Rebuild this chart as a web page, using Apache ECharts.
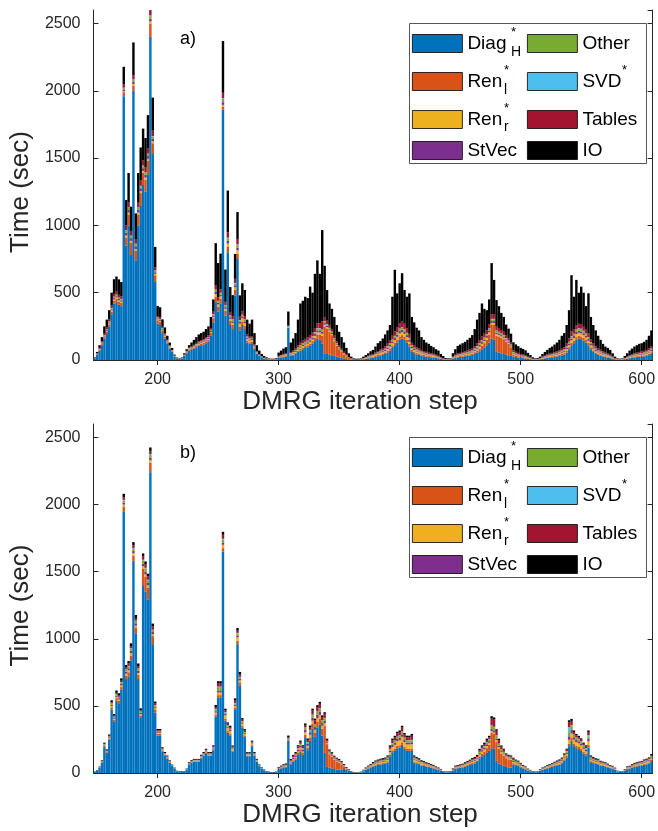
<!DOCTYPE html>
<html><head><meta charset="utf-8">
<script src="https://cdn.jsdelivr.net/npm/echarts@6/dist/echarts.min.js"></script>
<style>html,body{margin:0;padding:0;background:#fff}#c{width:658px;height:831px}</style>
</head><body><div id="c"></div>
<script>
// ---------------- data ----------------
const STEP_FIRST = 148, STEP_LAST = 608, STEP_BY = 2;   // DMRG iteration steps (bin centres)
const X_TICKS = [200, 300, 400, 500, 600];
const Y_MAX = 2600, Y_STEP = 500;
const SERIES_NAMES = ['Diag', 'Ren_l', 'Ren_r', 'StVec', 'Other', 'SVD', 'Tables', 'IO'];
const LEGEND_TEXT = { Diag: 'Diag', Ren_l: 'Ren', Ren_r: 'Ren', StVec: 'StVec', Other: 'Other', SVD: 'SVD', Tables: 'Tables', IO: 'IO' };
const LEGEND_SUP = { Diag: '*', Ren_l: '*', Ren_r: '*', SVD: '*' };
const LEGEND_SUB = { Diag: 'H', Ren_l: 'l', Ren_r: 'r' };
const PANEL_LABELS = ['a)', 'b)'];

// panel a)
const A_diag = [
12,40,70,110,160,200,250,340,420,430,
410,400,1960,850,1000,780,2000,740,1000,1150,
1300,1250,1380,2400,1530,580,270,260,200,160,
120,85,60,25,12,9,12,30,50,70,
75,85,95,105,110,115,125,135,180,280,
430,360,420,1860,330,800,260,230,480,750,
220,260,230,130,120,125,80,45,30,20,
10,7,4,3,3,5,15,18,22,25,
240,30,35,45,60,70,80,90,95,105,
120,140,160,150,120,50,45,40,35,30,
25,20,15,12,8,5,3,2,2,2,
3,6,9,12,15,18,22,28,32,38,
45,55,70,90,110,130,150,160,150,130,
100,60,50,42,38,32,28,25,22,20,
18,15,12,8,5,3,2,2,10,16,
20,22,25,28,30,33,37,45,55,65,
80,95,110,130,160,150,60,55,50,45,
40,35,30,26,22,18,16,14,12,9,
6,3,2,3,5,9,12,15,18,20,
22,25,30,35,40,55,80,110,125,150,
160,155,145,130,110,80,60,45,38,32,
26,22,19,15,10,5,2,2,2,6,
10,14,17,20,22,24,25,27,30,36,
45];
const A_renL = [
1,3,5,8,10,12,15,20,22,25,
25,25,30,60,80,90,40,70,80,90,
90,90,100,100,80,50,25,25,20,15,
12,9,6,3,1,1,1,3,5,7,
8,9,10,11,12,13,14,15,20,30,
40,35,35,20,35,40,30,30,40,40,
25,25,25,15,12,12,8,5,3,2,
2,1,1,1,1,1,4,5,5,6,
3,6,7,8,10,12,13,14,15,18,
20,25,30,40,60,200,190,170,150,110,
80,60,45,30,20,10,5,2,1,1,
1,2,3,4,5,6,7,9,10,11,
12,14,16,18,20,22,25,25,24,22,
20,15,13,12,11,10,9,8,7,7,
6,5,4,3,2,1,1,1,3,5,
6,7,7,8,9,10,11,13,16,20,
25,30,40,60,100,110,120,120,115,110,
95,85,65,15,12,10,8,7,6,5,
3,2,1,1,2,3,4,5,6,7,
7,8,9,10,11,13,15,18,18,20,
20,20,19,18,16,14,12,10,9,8,
7,6,5,4,3,2,1,1,1,2,
3,4,5,6,6,7,7,8,9,10,
12];
const A_renR = [
0,1,2,3,4,5,6,8,8,9,
8,8,8,15,15,15,10,15,15,15,
15,15,15,15,15,10,6,6,5,4,
4,3,2,1,1,0,1,1,2,3,
3,3,4,4,4,5,5,6,7,10,
20,18,18,15,15,25,15,15,20,25,
25,25,20,12,12,12,8,4,3,2,
1,1,1,1,1,1,3,3,4,4,
2,5,6,7,8,9,10,10,11,12,
12,14,15,15,15,12,10,9,8,7,
6,5,4,3,2,1,1,0,0,0,
1,2,3,4,5,5,6,7,8,9,
10,12,14,16,18,20,22,22,20,18,
16,12,10,9,8,7,6,6,5,5,
5,4,3,2,1,1,1,1,3,4,
5,5,6,6,7,7,8,10,12,14,
15,15,15,15,15,15,12,11,10,10,
9,8,7,6,5,5,4,4,3,2,
2,1,1,1,2,3,4,5,5,6,
6,7,8,9,10,12,15,18,20,22,
22,22,20,18,16,14,12,10,9,8,
7,6,5,4,3,1,1,1,1,2,
3,4,4,5,6,6,7,7,8,9,
10];
const A_stvec = [
1,2,3,4,5,6,7,9,10,10,
10,10,12,20,20,20,15,20,20,20,
20,20,20,20,20,12,7,7,6,5,
4,3,2,1,1,1,1,2,3,4,
4,4,5,5,6,6,7,7,8,10,
15,12,12,20,12,20,12,12,15,20,
12,12,12,8,7,7,5,3,2,1,
1,1,1,0,0,1,3,3,4,4,
2,5,6,7,8,9,10,10,11,12,
12,14,15,15,15,12,10,9,8,7,
6,5,4,3,2,1,1,0,0,0,
1,1,2,3,4,4,5,6,7,8,
9,10,12,14,15,16,18,18,17,15,
14,10,9,8,7,6,6,5,5,4,
4,4,3,2,1,1,1,1,3,4,
4,5,5,6,6,7,7,8,10,12,
13,13,13,14,14,14,12,11,10,10,
9,8,7,6,5,5,4,4,3,2,
2,1,1,1,2,3,3,4,5,5,
6,6,7,8,9,10,12,14,15,16,
16,16,15,14,13,11,10,9,8,7,
6,5,5,4,3,1,1,1,1,2,
3,3,4,5,5,6,6,7,7,8,
9];
const A_other = [
1,2,3,4,5,6,7,8,9,10,
9,9,10,15,15,15,15,15,15,15,
15,15,15,20,15,10,6,6,5,4,
3,3,2,1,1,1,1,2,3,3,
3,4,4,5,5,5,6,6,7,9,
15,12,12,25,12,20,12,12,15,20,
12,12,12,8,7,7,5,3,2,1,
1,1,0,0,0,1,2,3,3,4,
2,4,5,6,7,8,9,9,10,11,
11,12,14,14,14,12,10,9,8,7,
6,5,4,3,2,1,1,0,0,0,
0,1,2,3,3,4,5,5,6,7,
8,9,10,12,14,15,16,16,15,14,
12,9,8,7,6,6,5,5,4,4,
4,3,3,2,1,1,0,0,2,3,
4,4,5,5,6,6,7,8,9,11,
12,12,12,13,14,14,12,11,10,9,
8,7,6,5,5,4,4,3,3,2,
2,1,1,1,1,2,3,4,4,5,
5,6,6,7,8,10,12,14,15,16,
16,16,15,14,13,11,10,9,8,7,
6,5,4,4,2,1,1,0,1,1,
2,3,4,4,5,5,6,6,7,8,
9];
const A_svd = [
0,0,1,1,1,1,1,2,2,2,
2,2,3,4,4,4,4,4,4,4,
4,4,4,5,4,3,1,1,1,1,
1,1,0,0,0,0,0,0,1,1,
1,1,1,1,1,1,1,1,2,2,
3,3,3,5,3,4,3,3,3,4,
3,3,3,2,2,2,1,1,0,0,
0,0,0,0,0,0,1,1,1,1,
1,1,1,1,2,2,2,2,2,2,
2,3,3,3,3,3,2,2,2,2,
2,1,1,1,1,0,0,0,0,0,
0,0,0,1,1,1,1,1,1,1,
1,2,2,2,3,3,3,3,3,3,
3,2,2,1,1,1,1,1,1,1,
1,1,0,0,0,0,0,0,0,1,
1,1,1,1,1,1,1,2,2,2,
2,2,2,3,3,3,3,2,2,2,
2,2,1,1,1,1,1,1,1,0,
0,0,0,0,0,0,1,1,1,1,
1,1,1,1,1,2,2,3,3,3,
3,3,3,3,3,2,2,2,1,1,
1,1,1,1,0,0,0,0,0,0,
0,1,1,1,1,1,1,1,1,1,
1];
const A_tables = [
1,3,6,8,10,12,14,18,20,22,
20,20,25,35,35,35,30,35,35,40,
40,40,40,40,40,25,12,12,10,8,
6,5,3,2,1,1,1,3,4,5,
6,7,8,9,10,10,11,12,14,18,
30,25,25,40,25,40,25,25,30,40,
25,25,25,15,13,13,10,5,3,2,
2,1,1,1,1,1,4,5,6,7,
5,9,10,12,15,18,20,22,24,26,
28,30,35,35,60,30,25,22,20,18,
15,13,11,9,7,4,2,1,1,1,
1,2,4,5,6,7,9,11,13,15,
17,20,24,28,32,35,40,42,40,35,
30,20,18,16,15,13,12,11,10,9,
8,7,6,4,3,1,1,1,5,7,
8,9,10,11,12,13,14,17,20,24,
27,28,30,32,35,35,30,28,26,24,
20,18,15,13,11,10,8,7,6,5,
4,2,1,2,3,5,6,7,8,9,
10,11,12,14,16,20,25,35,30,32,
32,32,30,28,26,22,19,17,15,13,
11,10,9,7,5,3,1,1,1,3,
4,6,7,9,10,11,11,12,13,15,
18];
const A_io = [
4,9,20,32,55,58,70,95,109,112,
115,105,130,190,220,180,245,190,220,245,
235,215,245,50,245,150,75,75,55,45,
30,21,15,7,3,2,3,9,12,17,
30,37,43,50,52,55,61,68,82,91,
315,255,265,385,240,310,185,155,185,200,
158,208,193,110,97,122,83,44,27,17,
13,8,4,4,4,5,23,32,40,44,
105,70,90,114,190,292,296,313,292,359,
295,402,468,368,678,381,228,159,149,139,
120,101,86,69,48,28,12,7,6,6,
5,11,14,18,26,30,45,58,63,71,
88,98,112,290,458,254,296,359,251,233,
300,192,170,145,134,95,83,69,66,55,
49,41,39,24,17,7,6,6,24,40,
57,62,66,70,79,88,100,127,176,202,
246,185,148,183,379,254,196,162,127,110,
80,70,65,60,55,50,45,42,38,28,
18,10,5,6,10,20,27,34,43,47,
58,66,77,96,105,138,209,418,244,336,
231,281,253,175,298,166,135,118,92,74,
56,45,42,36,24,12,5,4,5,14,
25,35,43,50,55,60,62,67,75,93,
116];

// panel b)
const B_diag = [
8,16,38,78,195,150,248,475,385,540,
520,620,1950,700,720,840,1580,1040,700,410,
1400,1350,1290,2240,960,450,280,280,162,131,
108,78,52,32,12,9,9,9,25,64,
76,85,85,85,110,127,148,127,127,170,
420,560,560,1650,390,300,280,160,470,960,
650,340,270,125,125,200,128,85,51,34,
20,9,6,3,3,6,28,34,40,43,
240,65,85,100,135,160,135,260,170,240,
330,270,340,360,280,150,45,40,35,30,
26,25,25,30,25,18,9,3,2,2,
5,13,24,32,40,48,55,60,63,66,
68,78,125,155,165,185,190,210,180,165,
165,165,78,72,66,56,53,47,44,39,
34,28,23,16,8,6,6,8,19,32,
35,38,41,47,53,60,66,72,82,110,
125,135,150,165,185,180,90,70,60,55,
45,42,40,65,58,53,43,34,28,19,
12,7,6,7,16,24,29,35,40,45,
52,57,62,72,92,115,200,240,200,185,
178,165,145,130,190,80,74,68,65,55,
52,49,42,36,33,24,10,8,8,16,
29,32,39,45,48,52,55,62,65,71,
88];
const B_renL = [
0,1,2,3,6,5,8,15,12,17,
17,20,35,25,30,35,40,40,30,18,
120,110,90,70,60,25,12,12,7,6,
5,3,2,1,1,1,1,1,1,3,
3,3,3,3,4,5,6,5,5,7,
15,20,20,25,15,12,10,6,15,25,
20,12,10,5,5,7,5,3,2,1,
1,1,0,0,0,0,3,4,5,5,
5,8,10,11,14,16,14,25,18,25,
35,30,40,45,50,200,170,100,85,70,
60,52,40,17,7,3,1,1,0,0,
1,2,3,4,5,6,7,7,8,8,
8,9,12,14,15,16,16,18,16,15,
15,15,8,8,7,6,6,5,5,4,
4,3,3,2,1,1,1,1,2,4,
4,5,5,6,7,7,8,9,10,14,
20,25,35,45,115,110,140,110,85,75,
65,60,58,8,7,6,5,4,3,2,
2,1,1,1,2,3,4,4,5,6,
6,6,7,8,10,12,18,20,18,17,
16,15,13,12,18,8,7,6,6,5,
5,5,4,4,3,3,1,1,1,2,
3,4,4,5,5,6,6,7,7,8,
10];
const B_renR = [
0,0,1,2,4,3,5,9,7,10,
10,12,15,15,15,18,18,18,15,10,
20,20,18,20,15,10,6,6,4,3,
3,2,1,1,0,0,0,0,1,2,
2,3,3,3,4,4,5,4,4,5,
15,20,20,25,25,25,22,12,15,25,
20,15,12,6,6,8,5,4,2,1,
1,0,0,0,0,0,2,3,3,4,
4,6,8,9,12,14,12,18,15,20,
25,22,28,28,22,20,8,7,6,5,
5,5,4,3,2,1,0,0,0,0,
1,2,3,4,5,6,7,8,8,9,
9,11,18,25,30,36,38,42,35,33,
33,35,14,12,11,10,9,8,7,6,
5,4,3,2,1,1,1,1,2,4,
4,5,5,6,7,8,9,10,11,15,
14,15,16,15,12,12,15,12,10,9,
7,7,7,9,8,7,6,5,4,3,
2,1,1,1,2,3,4,5,5,6,
6,7,8,9,12,15,30,35,30,28,
27,25,22,20,30,12,11,10,9,8,
8,7,6,5,5,3,1,1,1,2,
4,4,5,6,6,7,7,8,8,9,
11];
const B_stvec = [
0,1,1,2,4,3,5,9,7,10,
10,12,15,15,15,17,17,17,15,10,
20,20,18,20,15,9,6,6,4,3,
3,2,1,1,0,0,0,0,1,2,
2,2,2,2,3,4,4,4,4,5,
10,15,15,15,10,8,8,5,10,15,
12,8,6,3,3,5,3,2,1,1,
1,0,0,0,0,0,2,3,3,4,
4,6,8,9,12,13,12,18,14,18,
22,20,25,25,20,20,7,6,6,5,
5,5,4,3,2,1,0,0,0,0,
0,1,2,3,3,4,5,5,6,6,
7,8,12,14,15,16,17,18,15,14,
14,14,7,7,6,5,5,4,4,4,
3,3,2,1,0,0,0,0,2,3,
3,3,4,4,5,5,6,6,7,9,
11,12,13,12,15,15,12,10,8,7,
6,6,5,7,6,6,5,4,3,2,
1,1,0,1,2,2,3,3,4,4,
4,5,5,6,8,10,25,25,18,16,
15,14,12,11,17,7,6,6,6,5,
5,4,4,3,3,2,1,0,0,1,
3,3,4,4,5,5,5,6,6,7,
8];
const B_other = [
0,0,1,2,4,3,5,8,7,10,
9,11,15,15,15,17,17,17,15,9,
25,25,20,20,15,9,6,6,3,3,
2,2,1,1,0,0,0,0,1,1,
2,2,2,2,3,4,4,4,4,5,
15,25,25,25,10,8,8,5,10,15,
12,8,6,3,3,5,3,2,1,1,
1,0,0,0,0,0,2,2,3,3,
3,5,7,8,10,12,10,15,12,16,
20,18,22,22,18,18,6,5,5,4,
4,4,4,3,1,1,0,0,0,0,
0,1,2,3,3,4,5,5,6,6,
6,7,11,14,15,16,17,19,15,14,
14,15,6,6,5,4,4,4,3,3,
3,3,2,1,0,0,0,0,2,3,
3,3,4,4,5,5,6,6,7,9,
11,12,13,14,25,25,20,15,12,10,
6,5,5,7,6,6,5,3,3,2,
1,1,0,1,1,2,2,3,3,4,
4,5,5,6,8,10,30,30,18,16,
15,14,12,11,18,7,6,6,6,5,
4,4,4,3,3,2,1,0,0,1,
3,3,4,4,5,5,5,6,6,7,
8];
const B_svd = [
0,0,0,0,1,1,1,2,2,2,
2,2,5,3,3,3,3,3,3,2,
4,4,4,5,3,2,1,1,1,1,
1,0,0,0,0,0,0,0,0,0,
1,1,1,1,1,1,1,1,1,1,
3,4,4,5,3,2,2,1,3,4,
3,2,1,1,1,1,1,0,0,0,
0,0,0,0,0,0,0,0,1,1,
1,1,1,1,2,2,2,3,2,3,
3,3,4,4,3,3,1,1,1,1,
1,1,1,1,0,0,0,0,0,0,
0,0,0,0,1,1,1,1,1,1,
1,1,2,2,3,3,3,3,3,3,
3,3,1,1,1,1,1,1,1,1,
1,0,0,0,0,0,0,0,0,0,
0,0,0,1,1,1,1,1,1,1,
2,2,3,3,3,3,3,3,2,2,
1,1,1,1,1,1,1,1,1,0,
0,0,0,0,0,0,0,1,1,1,
1,1,1,1,1,2,40,8,3,3,
3,3,2,2,10,1,1,1,1,1,
1,1,1,0,0,0,0,0,0,0,
0,0,0,1,1,1,1,1,1,1,
1];
const B_tables = [
1,1,1,2,4,4,6,9,7,8,
9,10,20,14,18,16,20,20,18,8,
25,25,25,25,25,12,7,7,3,2,
2,2,2,0,1,1,1,1,0,2,
3,3,3,3,4,4,5,4,4,5,
14,22,22,30,14,12,12,8,18,16,
18,12,12,5,5,7,4,3,2,1,
0,1,1,1,1,1,2,3,4,4,
10,7,9,10,13,15,13,18,16,20,
30,30,32,32,24,30,10,8,9,7,
6,6,5,4,2,1,1,0,0,0,
0,1,2,3,4,5,6,7,7,8,
9,9,16,20,22,23,24,28,22,22,
22,30,9,7,7,6,5,5,5,4,
4,3,3,2,1,1,1,1,2,3,
4,4,4,5,5,6,7,8,9,12,
13,15,16,13,50,53,34,25,19,15,
8,7,7,10,7,6,4,3,2,1,
1,0,1,0,1,2,2,3,3,3,
5,5,6,6,7,9,35,30,18,16,
13,12,11,11,22,8,8,6,6,5,
4,4,3,3,2,2,0,1,1,2,
2,3,3,4,4,3,5,4,6,6,
7];
const B_io = [
2,3,4,5,8,7,9,15,12,18,
17,18,25,18,18,20,25,22,20,15,
22,22,20,25,20,15,10,10,8,7,
6,5,4,4,3,3,3,3,4,6,
6,6,6,6,7,7,8,7,7,8,
15,18,18,22,12,10,10,8,15,20,
18,12,10,7,7,8,7,6,5,4,
3,3,3,3,3,3,5,6,6,7,
12,7,7,8,9,10,9,12,10,12,
14,12,14,14,12,12,9,8,8,7,
7,7,6,6,5,4,3,3,3,3,
3,4,5,6,6,7,7,7,7,7,
7,8,10,12,12,12,12,14,12,12,
12,14,8,7,7,7,7,6,6,6,
6,5,5,4,3,3,3,3,5,6,
6,6,6,7,7,7,8,8,8,10,
10,10,10,10,18,16,12,10,9,8,
8,8,8,7,7,7,6,6,5,4,
4,3,3,3,4,5,5,6,6,6,
6,7,7,7,8,8,15,15,12,10,
10,10,9,9,12,8,7,7,7,7,
6,6,6,5,5,4,3,3,3,4,
5,5,6,6,6,6,6,7,7,7,
8];

const PANEL_A = [A_diag, A_renL, A_renR, A_stvec, A_other, A_svd, A_tables, A_io];
const PANEL_B = [B_diag, B_renL, B_renR, B_stvec, B_other, B_svd, B_tables, B_io];

// ---------------- styling / layout ----------------
const COLORS = ['#0072BD', '#D95319', '#EDB120', '#7E2F8E', '#77AC30', '#4DBEEE', '#A2142F', '#000000'];
const FONT = 'Liberation Sans, Arial, Helvetica, sans-serif';
const AX = '#262626';
// legend slot layout: column x of swatch, row centre y (relative to legend box top)
const LEG_COL_X = [412, 527];
const LEG_ROW_CY = [20, 58, 96, 127];
const LEG_SLOT = { Diag: [0, 0], Ren_l: [0, 1], Ren_r: [0, 2], StVec: [0, 3], Other: [1, 0], SVD: [1, 1], Tables: [1, 2], IO: [1, 3] };
const LEG_SCRIPT_X = { Diag: 511, Ren_l: 504, Ren_r: 504, SVD: 622 };

const steps = [];
for (let s = STEP_FIRST; s <= STEP_LAST; s += STEP_BY) steps.push(String(s));
const isTick = (i, v) => X_TICKS.indexOf(Number(v)) >= 0;

const GRIDS = [
  { left: 91, top: 10, width: 565, height: 350 },
  { left: 91, top: 424, width: 565, height: 349 }
];
const LEGEND_BOX_TOP = [23, 437];

const xAxes = [], yAxes = [], series = [], legends = [], graphics = [];
GRIDS.forEach((g, gi) => {
  xAxes.push({
    type: 'category', gridIndex: gi, data: steps, position: 'bottom', boundaryGap: true,
    axisLine: { show: true, lineStyle: { color: AX, width: 1 } },
    axisTick: { show: true, inside: true, length: 5, alignWithLabel: true, interval: isTick, lineStyle: { color: AX } },
    axisLabel: { show: true, interval: isTick, fontSize: 16, color: AX, margin: 12, fontFamily: FONT },
    splitLine: { show: false },
    name: 'DMRG iteration step', nameLocation: 'middle', nameGap: 28,
    nameTextStyle: { fontSize: 26, color: AX, fontFamily: FONT, padding: [0, 26, 0, 0] }
  });
  xAxes.push({
    type: 'category', gridIndex: gi, data: steps, position: 'top', boundaryGap: true,
    axisLine: { show: true, lineStyle: { color: AX, width: 1 } },
    axisTick: { show: true, inside: true, length: 5, alignWithLabel: true, interval: isTick, lineStyle: { color: AX } },
    axisLabel: { show: false }, splitLine: { show: false }
  });
  yAxes.push({
    type: 'value', gridIndex: gi, position: 'left', min: 0, max: Y_MAX, interval: Y_STEP,
    axisLine: { show: true, lineStyle: { color: AX, width: 1 } },
    axisTick: { show: true, inside: true, length: 5, lineStyle: { color: AX } },
    axisLabel: { show: true, fontSize: 16, color: AX, margin: 13, fontFamily: FONT, showMaxLabel: false,
      formatter: (v) => String(v) },
    splitLine: { show: false },
    name: 'Time (sec)', nameLocation: 'middle', nameGap: 54,
    nameTextStyle: { fontSize: 26, color: AX, fontFamily: FONT, padding: [0, 14, 0, 0] }
  });
  yAxes.push({
    type: 'value', gridIndex: gi, position: 'right', min: 0, max: Y_MAX, interval: Y_STEP,
    axisLine: { show: true, lineStyle: { color: AX, width: 1 } },
    axisTick: { show: true, inside: true, length: 5, lineStyle: { color: AX } },
    axisLabel: { show: false }, splitLine: { show: false }
  });
  const panel = gi === 0 ? PANEL_A : PANEL_B;
  SERIES_NAMES.forEach((name, si) => {
    series.push({
      type: 'bar', name: name, xAxisIndex: gi * 2, yAxisIndex: gi * 2, stack: 'p' + gi,
      data: panel[si], barCategoryGap: '0%', barGap: '0%',
      itemStyle: { color: COLORS[si] }, silent: true, clip: true,
      emphasis: { disabled: true }
    });
  });
  const bt = LEGEND_BOX_TOP[gi];
  graphics.push({
    type: 'rect', z: 5, shape: { x: 409.5, y: bt + 0.5, width: 237, height: 140 },
    style: { fill: '#fff', stroke: '#555', lineWidth: 1 }
  });
  SERIES_NAMES.forEach((name) => {
    const [c, r] = LEG_SLOT[name];
    const cy = bt + LEG_ROW_CY[r];
    legends.push({
      show: true, left: LEG_COL_X[c], top: cy - 9, orient: 'vertical',
      itemGap: 0, itemWidth: 50, itemHeight: 18, icon: 'rect', padding: 0,
      selectedMode: false, data: [name], z: 10,
      formatter: () => LEGEND_TEXT[name],
      itemStyle: { borderColor: '#000', borderWidth: 0.8 },
      textStyle: { color: '#000', fontFamily: FONT, fontSize: 19, lineHeight: 18 }
    });
    if (LEGEND_SUP[name]) {
      graphics.push({
        type: 'text', z: 11, x: LEG_SCRIPT_X[name], y: cy - 17,
        style: { text: LEGEND_SUP[name], font: '13px ' + FONT, fill: '#000', align: 'left', verticalAlign: 'top' }
      });
    }
    if (LEGEND_SUB[name]) {
      graphics.push({
        type: 'text', z: 11, x: LEG_SCRIPT_X[name], y: cy + (name === 'Ren_r' ? 1 : 2),
        style: { text: LEGEND_SUB[name], font: '14px ' + FONT, fill: '#000', align: 'left', verticalAlign: 'top' }
      });
    }
  });
  graphics.push({
    type: 'text', left: 180, top: gi === 0 ? 30 : 444,
    style: { text: PANEL_LABELS[gi], font: '18px ' + FONT, fill: '#000' }
  });
});

const chart = echarts.init(document.getElementById('c'), null, { renderer: 'canvas' });
chart.setOption({
  animation: false,
  backgroundColor: '#fff',
  textStyle: { fontFamily: FONT },
  grid: GRIDS.map(g => Object.assign({ containLabel: false }, g)),
  xAxis: xAxes, yAxis: yAxes, series: series, legend: legends, graphic: graphics,
  tooltip: { show: false }
});
</script></body></html>
